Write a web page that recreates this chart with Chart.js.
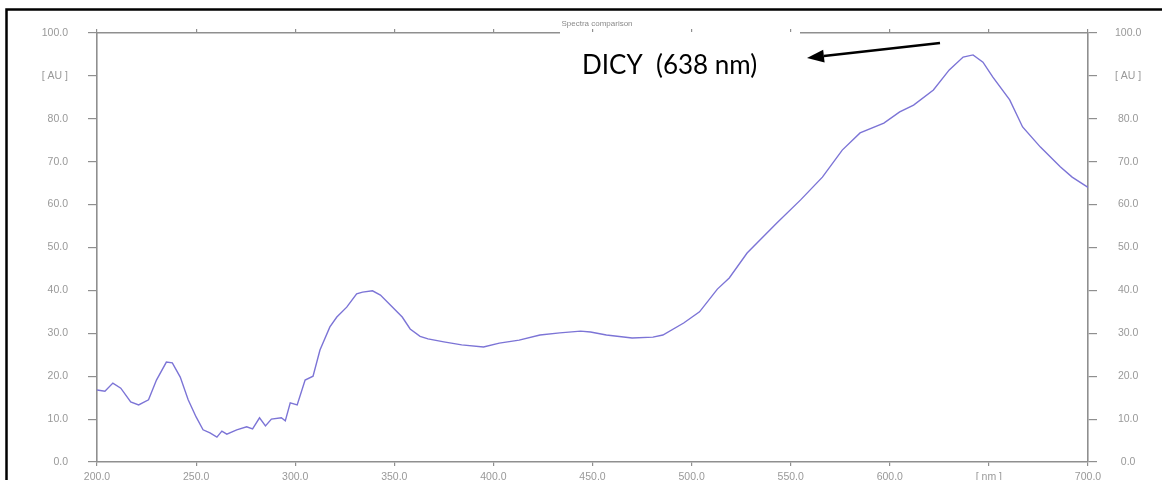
<!DOCTYPE html>
<html>
<head>
<meta charset="utf-8">
<script src="https://cdn.jsdelivr.net/npm/chart.js@4.4.1/dist/chart.umd.min.js"></script>
<style>
  html, body { margin: 0; padding: 0; background: #fff; }
  #wrap { width: 1162px; height: 480px; position: relative; }
</style>
</head>
<body>
<div id="wrap"><canvas id="c" width="1162" height="480"></canvas></div>
<script>
// ---- data ----
const wavelengths = [200, 204, 208, 212, 217, 221, 226, 230, 235, 238, 242, 246, 250, 253.5, 257, 260.5, 263, 265.5, 270.5, 275.5, 278.5, 282, 285, 288, 293, 295, 297.5, 301, 305, 309, 312.5, 317.5, 321, 326, 331, 334, 339, 343, 348, 354, 358, 363, 367, 375, 384, 395, 403, 413, 423.5, 433.5, 444, 449, 457, 470, 480.5, 485.5, 496, 504, 513, 519, 528, 543, 555, 566, 576, 585, 597, 605, 612, 622, 630, 637, 642, 647, 652, 660.5, 667, 676, 686, 692, 700];
const absorbance = [16.8, 16.5, 18.4, 17.2, 14.0, 13.3, 14.5, 19.1, 23.3, 23.1, 19.8, 14.5, 10.5, 7.5, 6.8, 5.8, 7.2, 6.5, 7.5, 8.2, 7.7, 10.3, 8.4, 10.0, 10.3, 9.6, 13.8, 13.3, 19.1, 20.0, 26.1, 31.5, 33.8, 36.1, 39.2, 39.6, 39.9, 38.9, 36.6, 33.8, 31.0, 29.3, 28.7, 28.0, 27.3, 26.8, 27.7, 28.4, 29.6, 30.1, 30.5, 30.3, 29.6, 28.9, 29.1, 29.6, 32.4, 35.0, 40.3, 42.9, 48.7, 55.7, 61.1, 66.4, 72.7, 76.7, 79.0, 81.6, 83.2, 86.7, 91.4, 94.4, 94.9, 93.2, 89.7, 84.4, 78.1, 73.4, 68.8, 66.4, 64.0];
const xTickValues = [200, 250, 300, 350, 400, 450, 500, 550, 600, 650, 700];
const xTickLabels = ['200.0', '250.0', '300.0', '350.0', '400.0', '450.0', '500.0', '550.0', '600.0', '[ nm ]', '700.0'];
const yTickValues = [0, 10, 20, 30, 40, 50, 60, 70, 80, 90, 100];
const yTickLabels = ['0.0', '10.0', '20.0', '30.0', '40.0', '50.0', '60.0', '70.0', '80.0', '[ AU ]', '100.0'];
const chartTitle = 'Spectra comparison';
const annotationText = 'DICY  (638 nm)';

// ---- styling ----
const axisColor = '#8f8f8f';
const labelColor = '#999999';
const tickFont = { family: 'Liberation Sans', size: 10.5 };

function xLabel(v) { const i = xTickValues.indexOf(v); return i >= 0 ? xTickLabels[i] : ''; }
function yLabel(v) { const i = yTickValues.indexOf(v); return i >= 0 ? yTickLabels[i] : ''; }

const frame = {
  id: 'frame',
  afterDraw(chart) {
    const ctx = chart.ctx;
    ctx.save();
    // outer black frame (left + top)
    ctx.strokeStyle = '#000';
    ctx.lineWidth = 2.5;
    ctx.beginPath();
    ctx.moveTo(6.5, 480);
    ctx.lineTo(6.5, 9.5);
    ctx.lineTo(1162, 9.5);
    ctx.stroke();
    // small title
    ctx.fillStyle = '#8a8a8a';
    ctx.font = '8px "Liberation Sans"';
    ctx.textAlign = 'center';
    ctx.textBaseline = 'middle';
    ctx.fillText(chartTitle, 597, 24);
    // white text box covering the top axis
    ctx.fillStyle = '#fff';
    ctx.fillRect(560, 32, 240, 50);
    // annotation text
    ctx.fillStyle = '#000';
    ctx.textAlign = 'left';
    ctx.textBaseline = 'alphabetic';
    ctx.font = '100px Lato';
    const w = ctx.measureText(annotationText).width;
    const size = 100 * 175 / w;
    ctx.font = size.toFixed(1) + 'px Lato';
    ctx.fillText(annotationText, 582, 74);
    // arrow
    const x1 = 940, y1 = 43, x2 = 807, y2 = 58;
    const dx = x2 - x1, dy = y2 - y1, len = Math.hypot(dx, dy);
    const ux = dx / len, uy = dy / len;
    const hl = 17, hw = 6.5;
    const bx = x2 - ux * hl, by = y2 - uy * hl;
    ctx.strokeStyle = '#000';
    ctx.lineWidth = 2.5;
    ctx.beginPath();
    ctx.moveTo(x1, y1);
    ctx.lineTo(bx, by);
    ctx.stroke();
    ctx.beginPath();
    ctx.moveTo(x2, y2);
    ctx.lineTo(bx - uy * hw, by + ux * hw);
    ctx.lineTo(bx + uy * hw, by - ux * hw);
    ctx.closePath();
    ctx.fill();
    ctx.restore();
  }
};

function gridCfg(len) {
  return { display: true, drawOnChartArea: false, drawTicks: true, tickLength: len, color: axisColor, lineWidth: 1.2 };
}
function borderCfg() { return { display: true, color: axisColor, width: 1.6 }; }
function fixSize(prop, val) {
  return function (s) {
    s[prop] = val;
    s.paddingTop = 0; s.paddingBottom = 0; s.paddingLeft = 0; s.paddingRight = 0;
  };
}

new Chart(document.getElementById('c'), {
  type: 'line',
  data: {
    datasets: [{
      data: wavelengths.map((w, i) => ({ x: w, y: absorbance[i] })),
      borderColor: 'rgb(124,116,214)',
      borderWidth: 1.4,
      pointRadius: 0,
      tension: 0,
      fill: false
    }]
  },
  options: {
    responsive: false,
    animation: false,
    layout: { padding: 0 },
    plugins: { legend: { display: false }, tooltip: { enabled: false }, title: { display: false } },
    scales: {
      x: {
        type: 'linear', position: 'bottom', min: 200, max: 700,
        afterBuildTicks(s) { s.ticks = xTickValues.map(v => ({ value: v })); },
        afterFit: fixSize('height', 18),
        grid: gridCfg(4), border: borderCfg(),
        ticks: { autoSkip: false, maxRotation: 0, padding: 5, color: labelColor, font: tickFont, callback: v => xLabel(v) }
      },
      xTop: {
        type: 'linear', position: 'top', min: 200, max: 700,
        afterBuildTicks(s) { s.ticks = xTickValues.map(v => ({ value: v })); },
        afterFit: fixSize('height', 33),
        grid: gridCfg(4), border: borderCfg(),
        ticks: { display: false }
      },
      y: {
        type: 'linear', position: 'left', min: 0, max: 100,
        afterBuildTicks(s) { s.ticks = yTickValues.map(v => ({ value: v })); },
        afterFit: fixSize('width', 97),
        grid: gridCfg(9), border: borderCfg(),
        ticks: { padding: 20, color: labelColor, font: tickFont, callback: v => yLabel(v) }
      },
      y2: {
        type: 'linear', position: 'right', min: 0, max: 100,
        afterBuildTicks(s) { s.ticks = yTickValues.map(v => ({ value: v })); },
        afterFit: fixSize('width', 74),
        grid: gridCfg(9), border: borderCfg(),
        ticks: { padding: 18, crossAlign: 'center', color: labelColor, font: tickFont, callback: v => yLabel(v) }
      }
    }
  },
  plugins: [frame]
});
</script>
</body>
</html>
